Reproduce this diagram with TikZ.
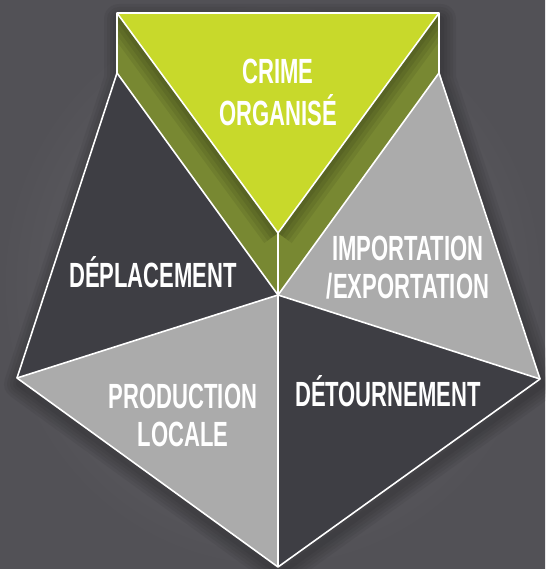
\documentclass[tikz,border=0pt]{standalone}
\usepackage{fontspec}
\setmainfont{Liberation Sans}
\begin{document}
\begin{tikzpicture}[x=1pt,y=-1pt,
  edge/.style={draw=white, line width=1.6pt, line join=round},
  lbl/.style={text=white, inner sep=0pt, anchor=base,
    font=\bfseries\fontsize{35}{38}\selectfont},
]
\definecolor{bg}{HTML}{5B5A5F}
\definecolor{bgdark}{HTML}{525156}
\definecolor{darkface}{HTML}{3E3E44}
\definecolor{lightface}{HTML}{ABABAB}
\definecolor{lime}{HTML}{C8D92B}
\definecolor{olive}{HTML}{788832}
\newcommand\cond[1]{\scalebox{0.63}[1]{\begin{tabular}[t]{@{}c@{}}#1\end{tabular}}}

\useasboundingbox (0,0) rectangle (545,569);
\shade[inner color=bg!90!white, outer color=bgdark] (0,0) rectangle (545,569);

% key points of the pentagon
\coordinate (TL) at (117,13);
\coordinate (TR) at (439,13);
\coordinate (A)  at (117,73);
\coordinate (B)  at (439,73);
\coordinate (L)  at (17,378);
\coordinate (R)  at (540,379);
\coordinate (Bot) at (278,567);
\coordinate (C)  at (278,295);
\coordinate (Ap) at (278,233);

% soft drop shadow
\foreach \w in {30,24,18,12,6}
  \draw[black, opacity=0.05, line width=\w pt, line join=round]
    ([shift={(2,6)}]TL) -- ([shift={(2,6)}]TR) -- ([shift={(2,6)}]B) -- ([shift={(2,6)}]R)
    -- ([shift={(2,6)}]Bot) -- ([shift={(2,6)}]L) -- ([shift={(2,6)}]A) -- cycle;

% grey faces
\fill[darkface]  (A) -- (C) -- (L) -- cycle;
\fill[lightface] (L) -- (C) -- (Bot) -- cycle;
\fill[darkface]  (C) -- (R) -- (Bot) -- cycle;
\fill[lightface] (B) -- (R) -- (C) -- cycle;

% green wedge with bevelled sides
\fill[olive] (TL) -- (TR) -- (B) -- (C) -- (A) -- cycle;
\begin{scope}
  \clip (TL) -- (Ap) -- (C) -- (A) -- cycle;
  \foreach \w in {34,26,18,10}
    \draw[black, opacity=0.07, line width=\w pt] (TL) -- (Ap);
\end{scope}
\begin{scope}
  \clip (TR) -- (B) -- (C) -- (Ap) -- cycle;
  \foreach \w in {34,26,18,10}
    \draw[black, opacity=0.07, line width=\w pt] (TR) -- (Ap);
\end{scope}
\fill[lime] (TL) -- (TR) -- (Ap) -- cycle;

% white edges
\draw[edge] (TL) -- (TR) -- (B) -- (R) -- (Bot) -- (L) -- (A) -- cycle;
\draw[edge] (A) -- (C) -- (B);
\draw[edge] (L) -- (C) -- (R);
\draw[edge] (C) -- (Bot);
\draw[edge] (TL) -- (Ap) -- (TR);
\draw[edge] (Ap) -- (C);

% labels
\node[lbl] (crime) at (278,83.5) {\cond{CRIME\\ORGANISÉ}};
\node[lbl] (depl)  at (153,287)  {\cond{DÉPLACEMENT}};
\node[lbl] (impo)  at (408,260)  {\cond{IMPORTATION\\/EXPORTATION}};
\node[lbl] (detou) at (388,406.5) {\cond{DÉTOURNEMENT}};
\node[lbl] (prod)  at (183,408)  {\cond{PRODUCTION\\LOCALE}};
\end{tikzpicture}
\end{document}
